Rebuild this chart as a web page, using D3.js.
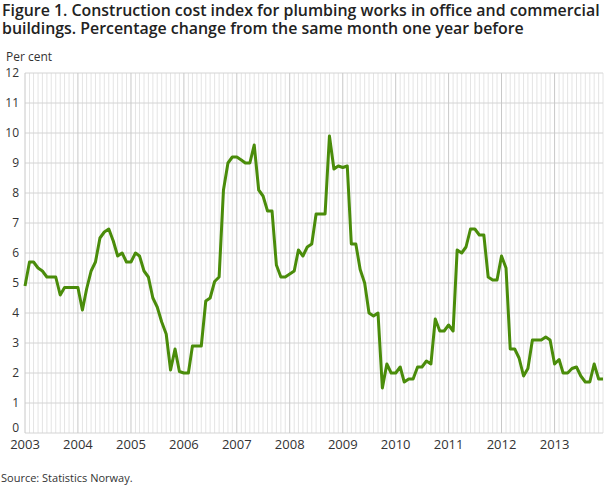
<!DOCTYPE html>
<html>
<head>
<meta charset="utf-8">
<script src="https://cdn.jsdelivr.net/npm/d3@7"></script>
<style>
  body { margin: 0; background: #fff; }
  svg { font-family: "Open Sans", sans-serif; }
</style>
</head>
<body>
<div id="vis"></div>
<script>
// monthly percentage change, Jan 2003 - Dec 2013
const years = [2003, 2004, 2005, 2006, 2007, 2008, 2009, 2010, 2011, 2012, 2013];
const values = [
  4.9, 5.7, 5.7, 5.5, 5.4, 5.2, 5.2, 5.2, 4.6, 4.85, 4.85, 4.85,
  4.85, 4.1, 4.8, 5.4, 5.7, 6.5, 6.7, 6.8, 6.4, 5.9, 6.0, 5.7,
  5.7, 6.0, 5.9, 5.4, 5.2, 4.5, 4.2, 3.7, 3.3, 2.1, 2.8, 2.05,
  2.0, 2.0, 2.9, 2.9, 2.9, 4.4, 4.5, 5.05, 5.2, 8.1, 9.0, 9.2,
  9.2, 9.1, 9.0, 9.0, 9.6, 8.1, 7.9, 7.4, 7.4, 5.6, 5.2, 5.2,
  5.3, 5.4, 6.1, 5.9, 6.2, 6.3, 7.3, 7.3, 7.3, 9.9, 8.8, 8.9,
  8.85, 8.9, 6.3, 6.3, 5.45, 5.0, 4.0, 3.9, 4.0, 1.5, 2.3, 2.0,
  2.0, 2.2, 1.7, 1.8, 1.8, 2.2, 2.2, 2.4, 2.3, 3.8, 3.4, 3.4,
  3.6, 3.4, 6.1, 6.0, 6.2, 6.8, 6.8, 6.6, 6.6, 5.2, 5.1, 5.1,
  5.9, 5.5, 2.8, 2.8, 2.5, 1.9, 2.15, 3.1, 3.1, 3.1, 3.2, 3.1,
  2.3, 2.45, 2.0, 2.0, 2.15, 2.2, 1.9, 1.7, 1.7, 2.3, 1.8, 1.8
];
const yTicks = [0, 1, 2, 3, 4, 5, 6, 7, 8, 9, 10, 11, 12];
const titleLines = [
  'Figure 1. Construction cost index for plumbing works in office and commercial',
  'buildings. Percentage change from the same month one year before'
];

const WIDTH = 610, HEIGHT = 488;
const MARGINS = {left: 25, right: 7, top: 73, bottom: 55};

const months = values.map((v, i) => new Date(2003, i, 1));
const data = values.map((v, i) => ({date: months[i], value: v}));

const svg = d3.select('#vis').append('svg')
  .attr('width', WIDTH)
  .attr('height', HEIGHT);

const X_SCALE = d3.scaleTime()
  .domain([months[0], months[months.length - 1]])
  .range([MARGINS.left, WIDTH - MARGINS.right]);

const Y_SCALE = d3.scaleLinear()
  .domain([0, 12])
  .range([HEIGHT - MARGINS.bottom, MARGINS.top]);

// title, two lines
svg.append('g').selectAll('text')
  .data(titleLines)
  .enter().append('text')
    .attr('x', 2).attr('y', (d, i) => 15.5 + i * 18.5)
    .attr('fill', '#222')
    .attr('font-size', '15.9px')
    .attr('font-weight', 600)
    .text(d => d);

svg.append('text')
  .attr('x', 6).attr('y', 61)
  .attr('font-size', '12px').attr('fill', '#333')
  .text('Per cent');

// monthly grid
svg.append('g').selectAll('line.month')
  .data(months.filter(d => d.getMonth() !== 0))
  .enter().append('line')
    .attr('x1', d => X_SCALE(d)).attr('x2', d => X_SCALE(d))
    .attr('y1', Y_SCALE(12)).attr('y2', Y_SCALE(0))
    .attr('stroke', '#e4e4e4').attr('stroke-width', 1);

// horizontal grid
svg.append('g').selectAll('line.h')
  .data(yTicks)
  .enter().append('line')
    .attr('x1', MARGINS.left).attr('x2', WIDTH - MARGINS.right)
    .attr('y1', d => Y_SCALE(d)).attr('y2', d => Y_SCALE(d))
    .attr('stroke', '#d4d4d4').attr('stroke-width', 1);

// year grid
svg.append('g').selectAll('line.year')
  .data(years)
  .enter().append('line')
    .attr('x1', d => X_SCALE(new Date(d, 0, 1))).attr('x2', d => X_SCALE(new Date(d, 0, 1)))
    .attr('y1', Y_SCALE(12)).attr('y2', Y_SCALE(0))
    .attr('stroke', '#c8c8c8').attr('stroke-width', 1);

// y axis labels (0 sits on its line so it clears the year labels)
svg.append('g').selectAll('text')
  .data(yTicks)
  .enter().append('text')
    .attr('x', 19).attr('y', d => Y_SCALE(d) + (d === 0 ? -1 : 4))
    .attr('text-anchor', 'end')
    .attr('font-size', '12px').attr('fill', '#333')
    .text(d => d);

// x axis labels
svg.append('g').selectAll('text')
  .data(years)
  .enter().append('text')
    .attr('x', d => X_SCALE(new Date(d, 0, 1)))
    .attr('y', Y_SCALE(0) + 16)
    .attr('text-anchor', 'middle')
    .attr('font-size', '13px').attr('fill', '#333')
    .text(d => d);

// the line
svg.append('path')
  .datum(data)
  .attr('fill', 'none')
  .attr('stroke', '#4a8c0a')
  .attr('stroke-width', 3)
  .attr('stroke-linejoin', 'round')
  .attr('d', d3.line().x(d => X_SCALE(d.date)).y(d => Y_SCALE(d.value)));

svg.append('text')
  .attr('x', 1).attr('y', 482)
  .attr('font-size', '11px').attr('fill', '#333')
  .text('Source: Statistics Norway.');
</script>
</body>
</html>
